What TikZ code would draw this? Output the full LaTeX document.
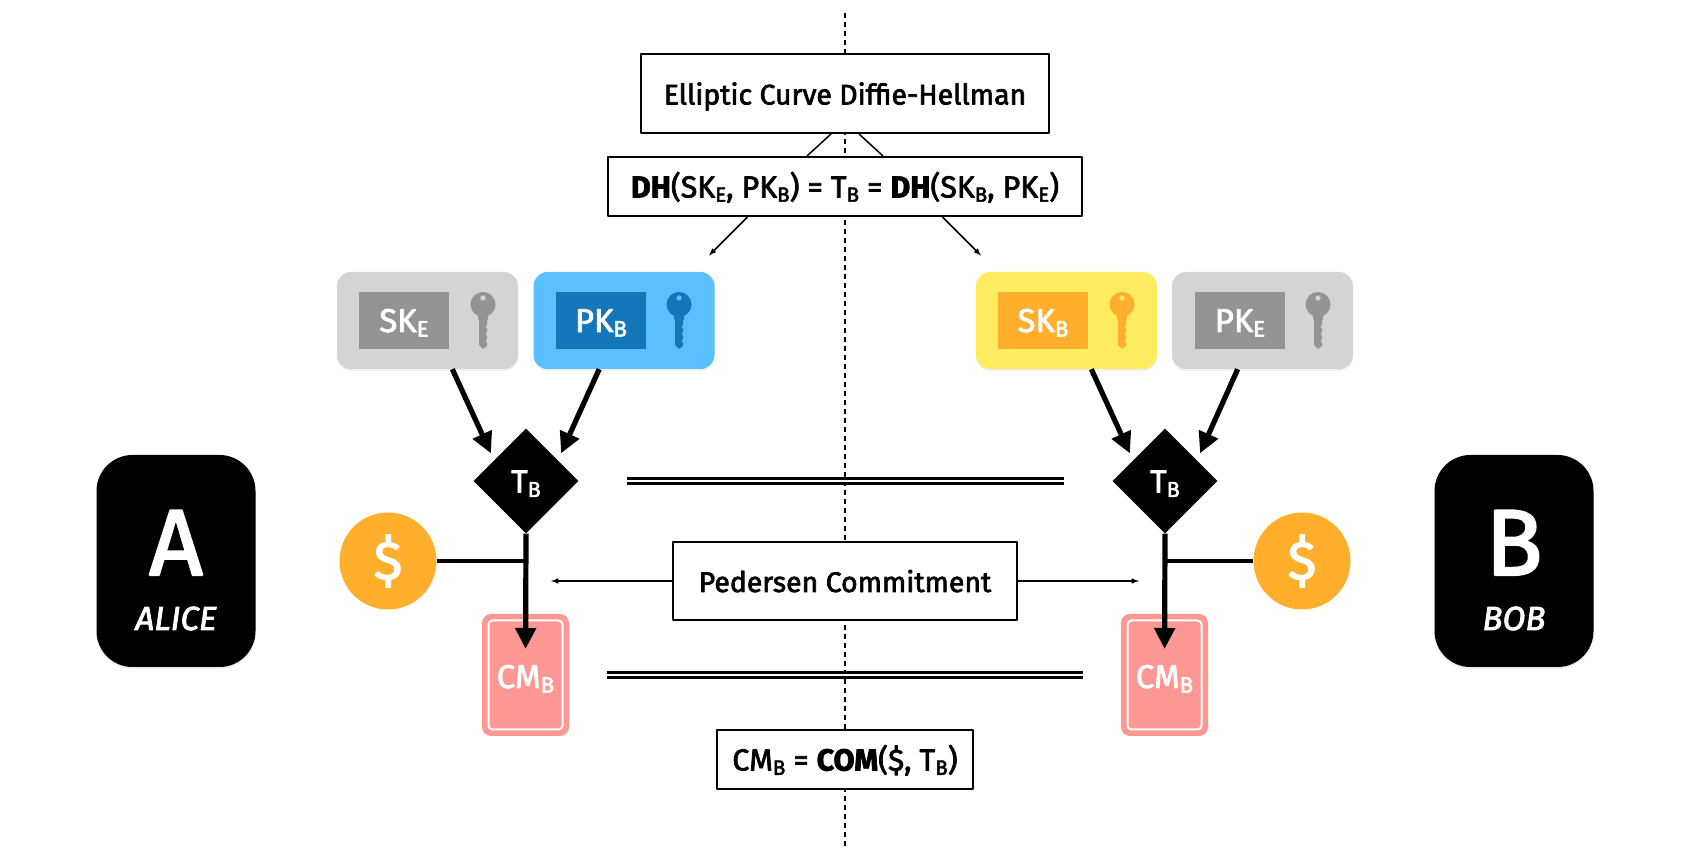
\documentclass[tikz,border=0pt]{standalone}
\usepackage{fontspec}
\setmainfont{Fira Sans}
\newfontfamily\mdfont[FakeBold=2.4]{Fira Sans}
\usetikzlibrary{arrows,arrows.meta,%
                shapes.geometric,shadows,positioning}
\definecolor{graycard}{HTML}{D4D4D4}
\definecolor{graytag}{HTML}{949494}
\definecolor{bluecard}{HTML}{5AC0FF}
\definecolor{bluetag}{HTML}{1477BA}
\definecolor{yellowcard}{HTML}{FFEC60}
\definecolor{orangetag}{HTML}{FFAF2B}
\definecolor{salmoncard}{HTML}{FF9893}
\newcommand{\lowtxt}[1]{\raisebox{-0.14em}{\scalebox{0.68}{#1}}}
\tikzstyle{txtbox}=[rectangle,draw=black,fill=white,line width=2bp,inner sep=0pt,text height=24bp,text depth=2bp,font=\mdfont\fontsize{28.5}{32}\selectfont]
\tikzstyle{mathbox}=[txtbox,font=\mdfont\fontsize{30.5}{32}\selectfont]
\tikzstyle{keycard}=[rectangle,rounded corners=14bp,minimum width=181bp,minimum height=97bp,inner sep=0pt,drop shadow={opacity=0.12,shadow xshift=0bp,shadow yshift=-2bp}]
\tikzstyle{keytag}=[rectangle,minimum width=90bp,minimum height=57bp,inner sep=0pt,text=white,text height=25bp,text depth=2bp,font=\mdfont\fontsize{33}{34}\selectfont]
\tikzstyle{sharedkey}=[diamond,fill=black,minimum width=105bp,minimum height=105bp,inner sep=0pt,text=white,text height=25bp,text depth=2bp,font=\mdfont\fontsize{32}{34}\selectfont]
\tikzstyle{coin}=[circle,fill=orangetag,minimum size=97bp,inner sep=0pt,text=white,font=\mdfont\fontsize{54}{56}\selectfont]
\tikzstyle{party}=[rectangle,fill=black,rounded corners=36bp,minimum width=159bp,minimum height=212bp,drop shadow={opacity=0.15,shadow xshift=0bp,shadow yshift=-2bp}]
\tikzstyle{cmcard}=[rectangle,fill=salmoncard,rounded corners=9bp,minimum width=87bp,minimum height=122bp,inner sep=0pt]
\tikzstyle{cmline}=[rectangle,draw=white,line width=2bp,rounded corners=4bp,minimum width=74bp,minimum height=109bp,inner sep=0pt,text=white,text height=28bp,text depth=2bp,font=\mdfont\fontsize{33}{34}\selectfont]
\tikzstyle{thin}=[line width=1.5bp,->]
\tikzstyle{thick}=[line width=5.2bp,-{Triangle[length=21bp,width=20bp]}]
\tikzstyle{equal}=[double,double distance=2.4bp,line width=2.4bp]
\tikzset{keyicon/.pic={
	\fill [even odd rule] (0bp,-12.5bp) circle (12.5bp) (0bp,-6bp) circle (2.8bp);
	\fill (-5bp,-22bp) -- (-5bp,-27bp) -- (-4bp,-28bp) -- (-4bp,-53bp) -- (0bp,-57bp) -- (4bp,-54bp) -- (4bp,-51bp) -- (2.5bp,-49bp) -- (4bp,-47bp) -- (4bp,-44bp) -- (2.5bp,-42bp) -- (4bp,-40bp) -- (4bp,-37bp) -- (2.5bp,-35bp) -- (4bp,-33bp) -- (4bp,-28bp) -- (5bp,-27bp) -- (5bp,-22bp) -- cycle;
}}

\begin{document}
\begin{tikzpicture}[>=latex,line join=bevel]
	\useasboundingbox (0bp,0bp) rectangle (1690bp,848bp);
	%%
	\coordinate (dashtop) at (845bp,835bp);
	  \coordinate (dashbot) at (845bp,0bp);
	  \draw [line width=2bp,dash pattern=on 5bp off 4bp] (dashtop) -- (dashbot);
	%
	\node (ecdh) at (845bp,754.5bp) [txtbox,minimum width=408bp,minimum height=79bp] {Elliptic Curve Diffie-Hellman};
	  \node (dh) at (845bp,661.5bp) [mathbox,minimum width=474bp,minimum height=59bp] {{\bfseries DH}(SK\lowtxt{E}, PK\lowtxt{B}) = T\lowtxt{B} = {\bfseries DH}(SK\lowtxt{B}, PK\lowtxt{E})};
	  \node (pedersen) at (845bp,267bp) [txtbox,minimum width=344bp,minimum height=78bp] {Pedersen Commitment};
	  \node (com) at (845bp,88.5bp) [mathbox,minimum width=256bp,minimum height=59bp] {CM\lowtxt{B} = {\bfseries COM}(\$, T\lowtxt{B})};
	%
	\node (skE) at (427.5bp,527.5bp) [keycard,fill=graycard] {};
	  \node (pkB) at (624bp,527.5bp) [keycard,fill=bluecard] {};
	  \node (skB) at (1066.5bp,527.5bp) [keycard,fill=yellowcard] {};
	  \node (pkE) at (1262.5bp,527.5bp) [keycard,fill=graycard] {};
	  \node (skEtag) at (404bp,527.5bp) [keytag,fill=graytag] {SK\lowtxt{E}};
	  \node (pkBtag) at (601bp,527.5bp) [keytag,fill=bluetag] {PK\lowtxt{B}};
	  \node (skBtag) at (1043bp,527.5bp) [keytag,fill=orangetag] {SK\lowtxt{B}};
	  \node (pkEtag) at (1240bp,527.5bp) [keytag,fill=graytag] {PK\lowtxt{E}};
	  \pic [fill=graytag] at (483bp,556bp) {keyicon};
	  \pic [fill=bluetag] at (679bp,556bp) {keyicon};
	  \pic [fill=orangetag] at (1122bp,556bp) {keyicon};
	  \pic [fill=graytag] at (1318bp,556bp) {keyicon};
	%
	\node (tbL) at (526bp,367bp) [sharedkey] {T\lowtxt{B}};
	  \node (tbR) at (1165bp,367bp) [sharedkey] {T\lowtxt{B}};
	  \node (coinL) at (388bp,287bp) [coin] {\$};
	  \node (coinR) at (1302bp,287bp) [coin] {\$};
	  \node (cmL) at (525.5bp,173bp) [cmcard] {};
	  \node (cmR) at (1164.5bp,173bp) [cmcard] {};
	  \node (cmLtext) at (525.5bp,173bp) [cmline] {CM\lowtxt{B}};
	  \node (cmRtext) at (1164.5bp,173bp) [cmline] {CM\lowtxt{B}};
	%
	\node (alice) at (176bp,287bp) [party] {};
	  \node (bob) at (1514bp,287bp) [party] {};
	  \node (aliceA) at (176bp,273bp) [anchor=base,text=white,font=\mdfont\fontsize{94}{94}\selectfont] {A};
	  \node (bobB) at (1514bp,273bp) [anchor=base,text=white,font=\mdfont\fontsize{94}{94}\selectfont] {B};
	  \node (aliceN) at (176bp,218bp) [anchor=base,text=white,font=\mdfont\itshape\fontsize{33.5}{35}\selectfont] {ALICE};
	  \node (bobN) at (1514bp,218bp) [anchor=base,text=white,font=\mdfont\itshape\fontsize{33.5}{35}\selectfont] {BOB};
	%
	\coordinate (dhtipL) at (709bp,592.5bp);
	  \coordinate (dhtipR) at (981bp,592.5bp);
	  \coordinate (pedtipL) at (551bp,267bp);
	  \coordinate (pedtipR) at (1139bp,267bp);
	  \draw [line width=1.5bp] ([xshift=-14bp]ecdh.south) -- ([xshift=-38bp]dh.north);
	  \draw [line width=1.5bp] ([xshift=14bp]ecdh.south) -- ([xshift=38bp]dh.north);
	  \draw [thin] ([xshift=-97.5bp]dh.south) -- (dhtipL);
	  \draw [thin] ([xshift=97.5bp]dh.south) -- (dhtipR);
	  \draw [thin] (pedersen.west) -- (pedtipL);
	  \draw [thin] (pedersen.east) -- (pedtipR);
	%
	\draw [thick,shorten >=7.5bp] (skE.-63) -- (tbL.147);
	  \draw [thick,shorten >=7.5bp] (pkB.-117) -- (tbL.33);
	  \draw [thick,shorten >=7.5bp] (skB.-63) -- (tbR.147);
	  \draw [thick,shorten >=7.5bp] (pkE.-117) -- (tbR.33);
	  \draw [thick,shorten >=26bp] (tbL.south) -- (cmL.center);
	  \draw [thick,shorten >=26bp] (tbR.south) -- (cmR.center);
	  \draw [line width=4.7bp] (coinL.east) -- (coinL.east -| tbL.south);
	  \draw [line width=4.7bp] (coinR.west) -- (coinR.west -| tbR.south);
	%
	\draw [equal,shorten <=48.5bp,shorten >=48.5bp] (tbL.east) -- (tbR.west);
	  \draw [equal,shorten <=38bp,shorten >=38bp] (cmL.east) -- (cmR.west);
	%
\end{tikzpicture}
\end{document}
